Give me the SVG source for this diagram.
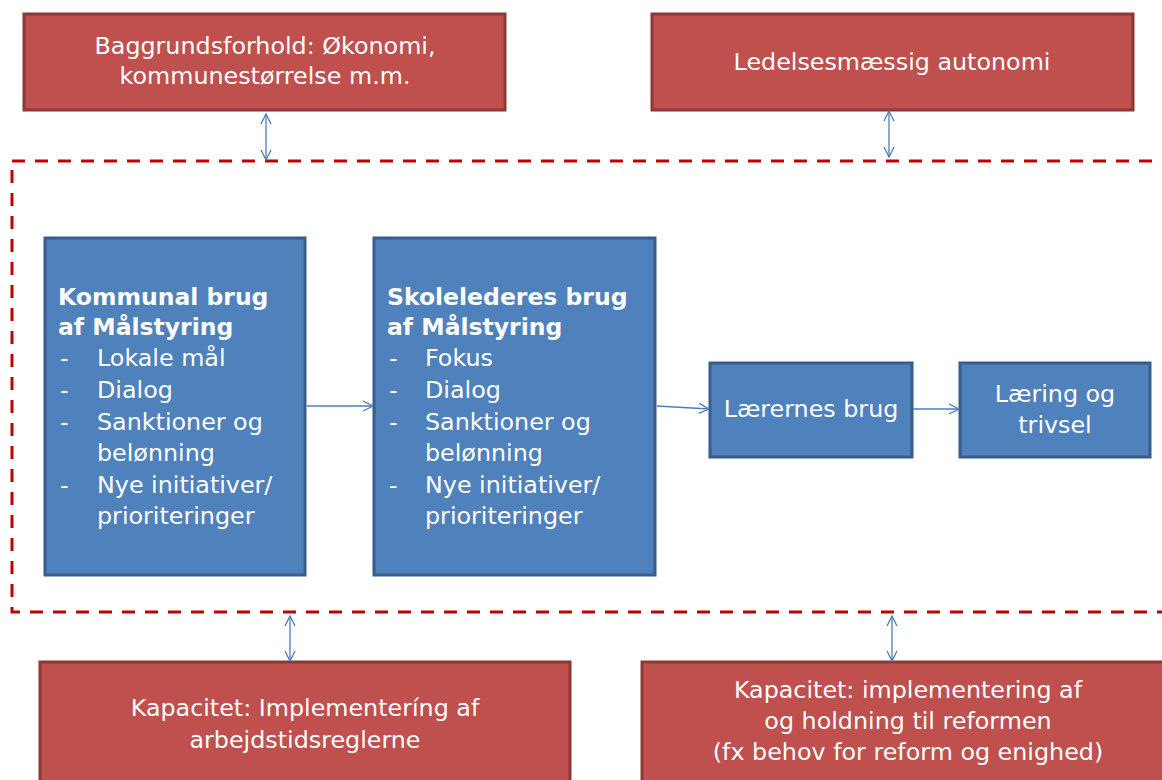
<svg xmlns="http://www.w3.org/2000/svg" width="1162" height="780" viewBox="0 0 1162 780">
<style>
.red{fill:#c0504d;stroke:#8c3836;stroke-width:3}
.blue{fill:#4f81bd;stroke:#385d8a;stroke-width:3}
text{font-family:"DejaVu Sans",Verdana,sans-serif;font-size:23.8px;fill:#fff}
.c{text-anchor:middle}
.b{font-weight:bold;font-size:23.5px}
.con{stroke:#4a7ebb;stroke-width:1.3;fill:none}
</style>
<defs>
<marker id="ah" viewBox="0 0 12 12" refX="11" refY="6" markerWidth="12" markerHeight="12" markerUnits="userSpaceOnUse" orient="auto-start-reverse">
<path d="M1,1 L11,6 L1,11" fill="none" stroke="#4a7ebb" stroke-width="1.3"/>
</marker>
</defs>
<rect x="12" y="161" width="1170" height="451" fill="none" stroke="#c00000" stroke-width="3" stroke-dasharray="13,10"/>
<g id="baggrund">
<rect class="red" x="24" y="14" width="481" height="96"/>
<text class="c" x="265" y="54">Baggrundsforhold: Økonomi,</text>
<text class="c" x="265" y="84">kommunestørrelse m.m.</text>
</g>
<g id="ledelse">
<rect class="red" x="652" y="14" width="481" height="96"/>
<text class="c" x="892" y="70">Ledelsesmæssig autonomi</text>
</g>
<g id="kommunal">
<rect class="blue" x="45" y="238" width="260" height="337"/>
<text class="b" x="58" y="305">Kommunal brug</text>
<text class="b" x="58" y="335">af Målstyring</text>
<text x="60" y="366">-</text><text x="97" y="366">Lokale mål</text>
<text x="60" y="398">-</text><text x="97" y="398">Dialog</text>
<text x="60" y="430">-</text><text x="97" y="430">Sanktioner og</text>
<text x="97" y="461">belønning</text>
<text x="60" y="493">-</text><text x="97" y="493">Nye initiativer/</text>
<text x="97" y="524">prioriteringer</text>
</g>
<g id="skoleledere">
<rect class="blue" x="374" y="238" width="281" height="337"/>
<text class="b" x="387" y="305">Skolelederes brug</text>
<text class="b" x="387" y="335">af Målstyring</text>
<text x="389" y="366">-</text><text x="425" y="366">Fokus</text>
<text x="389" y="398">-</text><text x="425" y="398">Dialog</text>
<text x="389" y="430">-</text><text x="425" y="430">Sanktioner og</text>
<text x="425" y="461">belønning</text>
<text x="389" y="493">-</text><text x="425" y="493">Nye initiativer/</text>
<text x="425" y="524">prioriteringer</text>
</g>
<g id="laererne">
<rect class="blue" x="710" y="363" width="202" height="94"/>
<text class="c" x="811" y="417">Lærernes brug</text>
</g>
<g id="laering">
<rect class="blue" x="960" y="363" width="190" height="94"/>
<text class="c" x="1055" y="402">Læring og</text>
<text class="c" x="1055" y="433">trivsel</text>
</g>
<g id="kapacitet1">
<rect class="red" x="40" y="662" width="530" height="140"/>
<text class="c" x="305" y="716">Kapacitet: Implementeríng af</text>
<text class="c" x="305" y="748">arbejdstidsreglerne</text>
</g>
<g id="kapacitet2">
<rect class="red" x="642" y="662" width="540" height="140"/>
<text class="c" x="908" y="698">Kapacitet: implementering af</text>
<text class="c" x="908" y="729">og holdning til reformen</text>
<text class="c" x="908" y="760">(fx behov for reform og enighed)</text>
</g>
<g id="connectors">
<line class="con" x1="266" y1="114" x2="266" y2="160" marker-start="url(#ah)" marker-end="url(#ah)"/>
<line class="con" x1="889" y1="111" x2="889" y2="157" marker-start="url(#ah)" marker-end="url(#ah)"/>
<line class="con" x1="290" y1="616" x2="290" y2="661" marker-start="url(#ah)" marker-end="url(#ah)"/>
<line class="con" x1="892" y1="616" x2="892" y2="661" marker-start="url(#ah)" marker-end="url(#ah)"/>
<line class="con" x1="307" y1="406" x2="373" y2="406" marker-end="url(#ah)"/>
<line class="con" x1="657" y1="406" x2="709" y2="409" marker-end="url(#ah)"/>
<line class="con" x1="913" y1="409" x2="959" y2="409" marker-end="url(#ah)"/>
</g>
</svg>
